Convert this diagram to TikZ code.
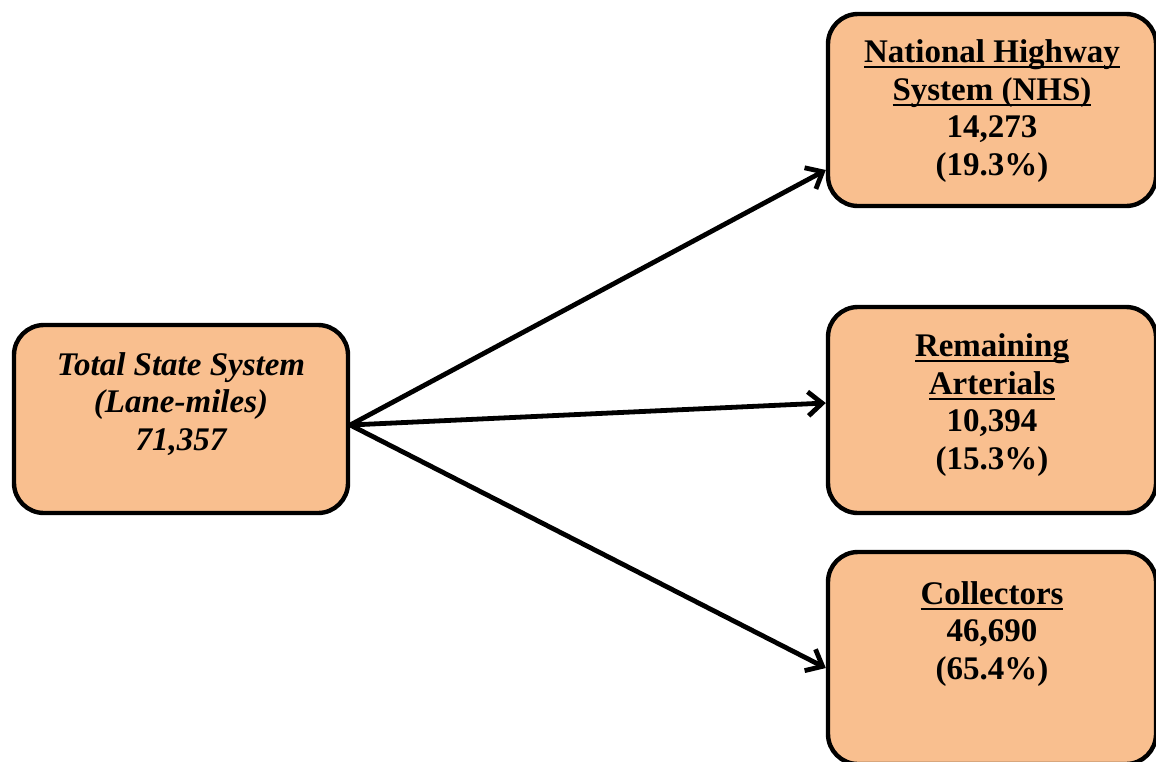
\documentclass[tikz,border=0pt]{standalone}
\usepackage{fontspec}
\setmainfont{Liberation Serif}
\newcommand\ulline[1]{\setbox0=\hbox{#1}\rlap{\rule[-2.8pt]{\wd0}{1.1pt}}\box0}
\usetikzlibrary{arrows.meta}
\definecolor{boxfill}{HTML}{F9BF8F}
\begin{document}
\begin{tikzpicture}[x=0.5pt, y=-0.5pt,
    box/.style={draw=black, line width=2.2pt, fill=boxfill, rounded corners=15pt,
        minimum width=164pt, minimum height=96pt},
    txt/.style={align=center, font=\fontsize{16.5}{18.75}\selectfont\bfseries},
    link/.style={line width=2.4pt, line cap=round, -{Straight Barb[length=7pt, width=12pt]}}]
\useasboundingbox (0,0) rectangle (1156,761);
% source
\node[box, minimum width=167pt, minimum height=94pt] (total) at (181,419) {};
\node[txt, font=\fontsize{16.5}{18.75}\selectfont\bfseries\itshape] (totaltxt) at (181,404)
    {Total State System\\(Lane-miles)\\71,357};
% targets
\node[box] (nhs) at (992,110) {};
\node[txt] (nhstxt) at (992,111)
    {\ulline{National Highway}\\\ulline{System (NHS)}\\14,273\\(19.3\%)};
\node[box, minimum height=103pt] (rem) at (992,410) {};
\node[txt] (remtxt) at (992,405)
    {\ulline{Remaining}\\\ulline{Arterials}\\10,394\\(15.3\%)};
\node[box, minimum height=106pt] (col) at (992,658) {};
\node[txt] (coltxt) at (992,634)
    {\ulline{Collectors}\\46,690\\(65.4\%)};
% arrows
\coordinate (src) at ([yshift=-3pt]total.east);
\draw[link] (src) -- ([yshift=-30pt]nhs.west);
\draw[link] (src) -- ([yshift=3.5pt]rem.west);
\draw[link] (src) -- ([yshift=-5pt]col.west);
\end{tikzpicture}
\end{document}
